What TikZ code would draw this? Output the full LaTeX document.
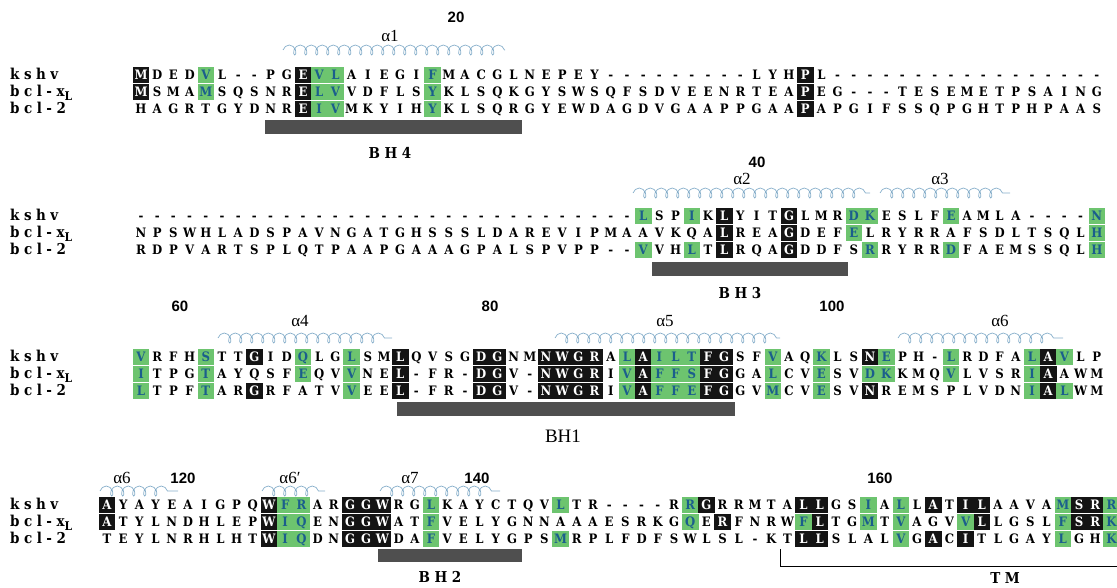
\documentclass[tikz,border=0pt]{standalone}
\usepackage{fontspec}
\setmainfont{Liberation Serif}
\newfontfamily\resfont{DejaVu Serif Condensed}
\newfontfamily\namefont{DejaVu Serif Condensed}[LetterSpace=30]
\newfontfamily\numfont{Liberation Sans}
\usetikzlibrary{decorations.pathmorphing}
\definecolor{hlgreen}{HTML}{6DC46F}
\definecolor{hlblue}{HTML}{1B5E8C}
\definecolor{helixblue}{HTML}{86AECA}
\definecolor{bhgray}{HTML}{4F4F4F}
\tikzset{
  res/.style={font=\resfont\bfseries\fontsize{13}{13}\selectfont,inner sep=0pt,
    minimum width=16.6pt,minimum height=16pt,text height=9.4pt,text depth=0pt},
  resplain/.style={},
  resblk/.style={fill=black!92,text=white},
  resgrn/.style={fill=hlgreen,text=hlblue},
  seqname/.style={font=\namefont\bfseries\fontsize{15}{15}\selectfont,anchor=west,inner sep=0pt,
    text height=10.5pt,text depth=1pt},
  helix/.style={draw=helixblue,line width=0.7pt,decorate,
    decoration={coil,aspect=0.7,segment length=11pt,amplitude=5pt}},
  alab/.style={font=\fontsize{17}{17}\selectfont,inner sep=0pt},
  numlab/.style={font=\numfont\bfseries\fontsize{15}{15}\selectfont,inner sep=0pt},
  bhbar/.style={fill=bhgray},
  bhlab/.style={font=\namefont\bfseries\fontsize{15}{15}\selectfont,inner sep=0pt}
}
\newcommand{\pitch}{16.2}
% one alignment row: name, x of column 1, y, residues (* = black box, + = green box)
\def\resrow#1#2#3#4{\def\rname{#1}\def\rx{#2}\def\ry{#3}\def\rcol{0}\def\rsty{resplain}\resloop#4\relax}
\def\resloop#1{%
  \ifx#1\relax\else
    \ifx#1*\def\rsty{resblk}\else
    \ifx#1+\def\rsty{resgrn}\else
      \pgfmathtruncatemacro\rcol{\rcol+1}%
      \node[res,\rsty] (\rname-\rcol) at ({\rx+(\rcol-1)*\pitch},\ry) {#1};%
      \def\rsty{resplain}%
    \fi\fi
    \expandafter\resloop
  \fi}
\newcommand{\xl}{bcl-x\smash{\raisebox{-4pt}{\fontsize{12}{12}\selectfont L}}}

\begin{document}
\begin{tikzpicture}[x=1pt,y=-1pt]
\useasboundingbox (0,0) rectangle (1117,588);

% sequence names
\foreach \yk/\bn in {75/1,216/2,357/3,505/4}{
  \node[seqname] (kn\bn) at (10,\yk) {kshv};
  \node[seqname] (xn\bn) at (10,\yk+17) {\xl};
  \node[seqname] (bn\bn) at (10,\yk+34) {bcl-2};
}

% block 1
\node[numlab] (n20) at (456,17) {20};
\node[alab] (a1) at (390,36) {α1};
\draw[helix] (283,50) -- (505,50);
\resrow{k1}{141}{75}{*MDED+VL--PG*E+V+LAIEGI+FMACGLNEPEY---------LYH*PL-----------------}
\resrow{x1}{141}{92}{*MSMA+MSQSNR*E+L+VVDFLS+YKLSQKGYSWSQFSDVEENRTEA*PEG---TESEMETPSAING}
\resrow{b1}{141}{109}{HAGRTGYDNR*E+I+VMKYIH+YKLSQRGYEWDAGDVGAAPPGAA*PAPGIFSSQPGHTPHPAAS}
\fill[bhbar] (265,120) rectangle (522,134);
\node[bhlab] (bh4) at (390,153) {BH4};

% block 2
\node[numlab] (n40) at (757,162) {40};
\node[alab] (a2) at (742,179) {α2};
\node[alab] (a3) at (940,179) {α3};
\draw[helix] (633,193) -- (870,193);
\draw[helix] (880,193) -- (1010,193);
\resrow{k2}{141}{216}{-------------------------------+LSP+IK*LYIT*GLMR+D+KESLF+EAMLA----+N}
\resrow{x2}{141}{233}{NPSWHLADSPAVNGATGHSSSLDAREVIPMAAVKQA*LREA*GDEF+ELRYRRAFSDLTSQL+H}
\resrow{b2}{141}{250}{RDPVARTSPLQTPAAPGAAAGPALSPVPP--+VVH+LT*LRQA*GDDFS+RRYRR+DFAEMSSQL+H}
\fill[bhbar] (652,262) rectangle (848,276);
\node[bhlab] (bh3) at (740,293) {BH3};

% block 3
\node[numlab] (n60) at (180,306) {60};
\node[numlab] (n80) at (490,306) {80};
\node[numlab] (n100) at (832,306) {100};
\node[alab] (a4) at (300,321) {α4};
\node[alab] (a5) at (665,321) {α5};
\node[alab] (a6) at (1000,321) {α6};
\draw[helix] (218,338) -- (392,338);
\draw[helix] (555,338) -- (780,338);
\draw[helix] (898,338) -- (1063,338);
\resrow{k3}{141}{357}{+VRFH+STT*GID+QLG+LSM*LQVSG*D*GNM*N*W*G*RA+L*A+I+L+T*F*GSF+VAQ+KLS*N+EPH-+LRDFA+L*A+VLP}
\resrow{x3}{141}{374}{+ITPG+TAYQSF+EQV+VNE*L-FR-*D*GV-*N*W*G*RI+V*A+F+F+S*F*GGA+LCV+ESV+D+KKMQ+VLVSR+I*AAWM}
\resrow{b3}{141}{391}{+LTPF+TAR*GRFATV+VEE*L-FR-*D*GV-*N*W*G*RI+V*A+F+F+E*F*GGV+MCV+ESV*NREMSPLVDN+I*A+LWM}
\fill[bhbar] (397,402) rectangle (735,416);
\node[font=\fontsize{19}{19}\selectfont,inner sep=0pt] (bh1) at (563,436) {BH1};

% block 4
\node[numlab] (n120) at (183,478) {120};
\node[numlab] (n140) at (477,478) {140};
\node[numlab] (n160) at (880,478) {160};
\node[alab] (a6b) at (122,478) {α6};
\node[alab] (a6p) at (290,478) {α6′};
\node[alab] (a7) at (410,478) {α7};
\draw[helix] (100,491) -- (178,491);
\draw[helix] (262,491) -- (325,491);
\draw[helix] (380,491) -- (500,491);
\resrow{k4}{107}{505}{*AYAYEAIGPQ*W+F+RAR*G*G*WRG+LKAYCTQV+LTR----R+R*GRRMTA*L*LGS+IA+LL*AT*I*LAAVA+M*S*R+R}
\resrow{x4}{107}{522}{*ATYLNDHLEP*W+I+QEN*G*G*WAT+FVELYGNNAAAESRKG+QE*RFNRW+F*LTG+MT+VAGV+V*LLGSL+F*S*R+K}
\resrow{b4}{107}{539}{TEYLNRHLHT*W+I+QDN*G*G*WDA+FVELYGPS+MRPLFDFSWLSL-KT*L*LSLAL+VG*AC*ITLGAY+LGH+K}
\fill[bhbar] (378,549) rectangle (522,562);
\node[bhlab] (bh2) at (440,577) {BH2};
\coordinate (tmstart) at (780,549);
\coordinate (tmend) at (1117,566);
\draw[line width=0.6pt] (tmstart) |- (tmend);
\node[bhlab] (tm) at (1005,578) {TM};
\end{tikzpicture}
\end{document}
